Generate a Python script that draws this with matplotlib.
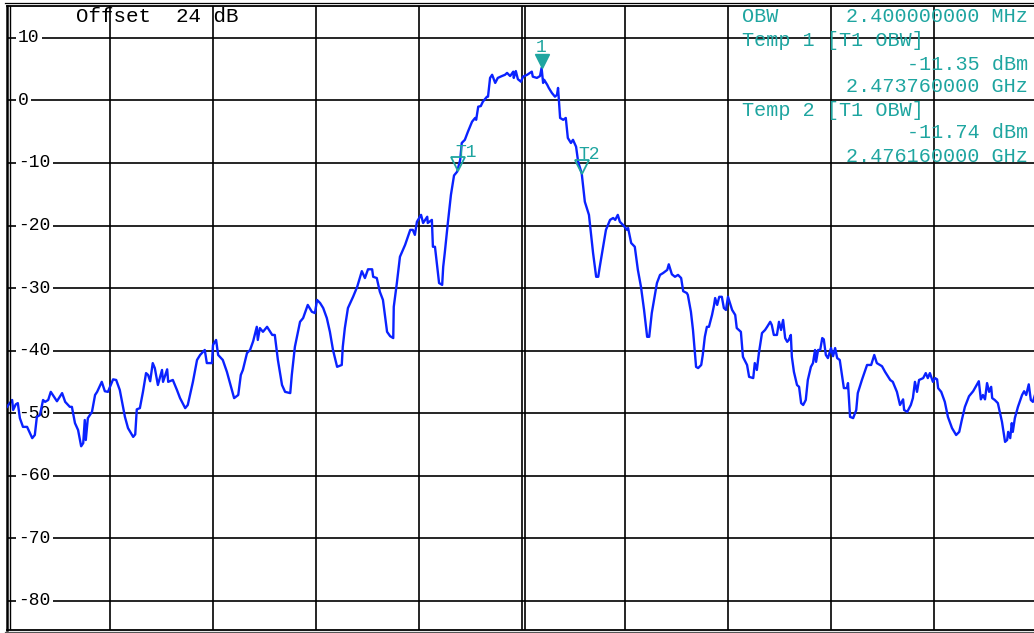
import matplotlib
matplotlib.use('Agg')
import matplotlib.pyplot as plt
import matplotlib.transforms as mtransforms
from matplotlib.lines import Line2D

# spectrum trace, frequency in MHz, level in dBm
freq_mhz = [
    2465.00, 2465.10, 2465.12, 2465.17, 2465.21, 2465.25, 2465.31, 2465.39, 2465.49, 2465.54,
    2465.58, 2465.64, 2465.70, 2465.74, 2465.80, 2465.85, 2465.89, 2465.97, 2466.07, 2466.13,
    2466.22, 2466.26, 2466.32, 2466.38, 2466.44, 2466.48, 2466.51, 2466.53, 2466.57, 2466.65,
    2466.71, 2466.75, 2466.84, 2466.90, 2466.96, 2467.06, 2467.12, 2467.19, 2467.29, 2467.35,
    2467.45, 2467.49, 2467.52, 2467.58, 2467.64, 2467.70, 2467.74, 2467.78, 2467.83, 2467.87,
    2467.93, 2468.01, 2468.03, 2468.11, 2468.13, 2468.22, 2468.30, 2468.36, 2468.46, 2468.51,
    2468.61, 2468.69, 2468.75, 2468.84, 2468.88, 2468.98, 2469.00, 2469.06, 2469.10, 2469.19,
    2469.27, 2469.33, 2469.41, 2469.49, 2469.54, 2469.58, 2469.66, 2469.72, 2469.78, 2469.82,
    2469.85, 2469.87, 2469.91, 2469.97, 2470.05, 2470.15, 2470.20, 2470.26, 2470.34, 2470.40,
    2470.50, 2470.53, 2470.59, 2470.69, 2470.75, 2470.84, 2470.92, 2470.98, 2471.02, 2471.08,
    2471.14, 2471.21, 2471.27, 2471.33, 2471.41, 2471.50, 2471.52, 2471.56, 2471.62, 2471.72,
    2471.80, 2471.89, 2471.95, 2472.01, 2472.09, 2472.11, 2472.18, 2472.24, 2472.30, 2472.38,
    2472.44, 2472.50, 2472.51, 2472.57, 2472.63, 2472.73, 2472.83, 2472.88, 2472.92, 2472.96,
    2473.04, 2473.08, 2473.16, 2473.17, 2473.25, 2473.27, 2473.31, 2473.39, 2473.45, 2473.47,
    2473.50, 2473.56, 2473.62, 2473.68, 2473.74, 2473.80, 2473.83, 2473.89, 2473.95, 2474.03,
    2474.09, 2474.11, 2474.15, 2474.20, 2474.24, 2474.32, 2474.34, 2474.38, 2474.42, 2474.48,
    2474.53, 2474.61, 2474.67, 2474.71, 2474.77, 2474.83, 2474.84, 2474.88, 2474.92, 2474.98,
    2475.02, 2475.10, 2475.19, 2475.21, 2475.29, 2475.35, 2475.38, 2475.41, 2475.43, 2475.49,
    2475.52, 2475.58, 2475.64, 2475.68, 2475.70, 2475.74, 2475.80, 2475.85, 2475.89, 2475.95,
    2475.99, 2476.05, 2476.09, 2476.16, 2476.22, 2476.30, 2476.38, 2476.44, 2476.48, 2476.51,
    2476.57, 2476.63, 2476.71, 2476.77, 2476.81, 2476.86, 2476.90, 2476.96, 2477.04, 2477.06,
    2477.12, 2477.19, 2477.25, 2477.31, 2477.37, 2477.43, 2477.47, 2477.52, 2477.62, 2477.68,
    2477.74, 2477.82, 2477.85, 2477.91, 2477.97, 2478.03, 2478.09, 2478.13, 2478.20, 2478.22,
    2478.28, 2478.32, 2478.38, 2478.42, 2478.48, 2478.51, 2478.55, 2478.59, 2478.63, 2478.69,
    2478.73, 2478.75, 2478.79, 2478.83, 2478.88, 2478.92, 2478.96, 2479.00, 2479.08, 2479.14,
    2479.17, 2479.25, 2479.29, 2479.37, 2479.41, 2479.49, 2479.52, 2479.56, 2479.60, 2479.66,
    2479.72, 2479.76, 2479.82, 2479.85, 2479.89, 2479.95, 2479.99, 2480.03, 2480.07, 2480.11,
    2480.15, 2480.18, 2480.22, 2480.24, 2480.28, 2480.34, 2480.38, 2480.42, 2480.46, 2480.51,
    2480.55, 2480.61, 2480.65, 2480.69, 2480.71, 2480.75, 2480.79, 2480.83, 2480.86, 2480.90,
    2480.94, 2481.00, 2481.04, 2481.08, 2481.12, 2481.17, 2481.25, 2481.31, 2481.33, 2481.37,
    2481.43, 2481.49, 2481.52, 2481.60, 2481.70, 2481.78, 2481.84, 2481.89, 2481.99, 2482.05,
    2482.15, 2482.20, 2482.28, 2482.34, 2482.40, 2482.42, 2482.48, 2482.55, 2482.59, 2482.63,
    2482.67, 2482.71, 2482.79, 2482.84, 2482.88, 2482.92, 2482.98, 2483.02, 2483.06, 2483.08,
    2483.14, 2483.21, 2483.27, 2483.35, 2483.43, 2483.49, 2483.54, 2483.60, 2483.68, 2483.76,
    2483.83, 2483.87, 2483.91, 2483.95, 2483.99, 2484.03, 2484.07, 2484.11, 2484.13, 2484.18,
    2484.24, 2484.32, 2484.38, 2484.42, 2484.44, 2484.48, 2484.51, 2484.53, 2484.57, 2484.63,
    2484.71, 2484.75, 2484.79, 2484.84, 2484.88, 2484.92, 2485.00,
]
level_dbm = [
    -49.0, -47.9, -49.5, -48.6, -48.4, -50.8, -52.2, -52.2, -54.0, -53.5,
    -50.6, -50.3, -47.9, -48.2, -47.9, -46.6, -47.1, -48.1, -46.8, -48.2,
    -49.0, -49.0, -51.6, -52.7, -55.3, -54.8, -51.1, -54.3, -50.8, -49.8,
    -47.1, -46.6, -45.0, -46.5, -46.6, -44.6, -44.7, -46.3, -50.6, -52.4,
    -53.8, -53.4, -49.4, -49.2, -46.6, -43.6, -43.9, -44.9, -42.0, -42.8,
    -45.5, -43.1, -45.0, -43.0, -45.0, -44.7, -46.3, -47.6, -49.2, -48.7,
    -45.0, -41.5, -40.7, -39.9, -42.0, -42.0, -39.1, -38.3, -40.7, -41.5,
    -43.4, -45.2, -47.6, -47.1, -43.9, -43.1, -40.4, -39.9, -38.5, -37.2,
    -36.2, -38.3, -36.4, -37.0, -36.2, -37.5, -37.5, -41.5, -45.5, -46.6,
    -46.8, -43.9, -39.4, -35.4, -34.8, -32.7, -33.8, -34.0, -31.9, -32.4,
    -33.2, -34.8, -37.0, -39.9, -42.6, -42.3, -39.4, -36.4, -33.2, -31.4,
    -29.8, -27.3, -28.4, -27.0, -27.0, -28.2, -28.4, -30.6, -31.9, -37.0,
    -37.7, -38.0, -33.0, -29.2, -25.0, -23.1, -20.7, -20.7, -21.5, -19.4,
    -18.3, -19.6, -18.6, -19.6, -19.1, -23.4, -23.4, -29.2, -29.5, -26.6,
    -24.4, -19.6, -15.1, -12.0, -11.4, -9.5, -6.8, -6.3, -5.0, -3.4,
    -2.8, -3.1, -1.0, -0.9, -0.2, 0.6, 0.6, 3.6, 4.1, 2.8,
    3.6, 3.9, 4.1, 4.4, 3.9, 4.6, 3.6, 4.7, 3.4, 3.0,
    3.8, 4.1, 4.6, 3.8, 3.6, 3.9, 5.2, 2.8, 3.3, 2.5,
    2.0, 1.2, 0.6, 0.9, 2.0, -2.8, -3.1, -2.8, -6.0, -6.8,
    -6.3, -7.4, -9.8, -11.7, -16.2, -18.3, -24.4, -28.2, -28.2, -26.6,
    -23.6, -20.7, -19.1, -18.8, -19.1, -18.3, -19.4, -19.9, -20.7, -20.4,
    -22.8, -23.4, -27.1, -29.8, -33.5, -37.8, -37.8, -34.0, -29.2, -27.9,
    -27.6, -27.1, -26.2, -27.8, -28.2, -27.9, -28.4, -30.5, -30.8, -31.1,
    -33.8, -36.7, -42.6, -42.8, -42.3, -40.7, -37.8, -36.2, -36.2, -34.3,
    -32.7, -31.6, -32.7, -31.4, -31.4, -33.2, -33.5, -31.4, -33.5, -34.3,
    -36.4, -37.0, -41.0, -42.3, -44.2, -44.4, -42.0, -43.1, -40.4, -37.2,
    -36.7, -36.2, -35.4, -35.9, -37.5, -37.5, -35.4, -36.7, -35.1, -38.0,
    -38.6, -38.3, -37.5, -41.0, -43.4, -45.5, -45.8, -48.4, -48.7, -47.9,
    -44.7, -42.6, -42.0, -39.9, -41.8, -39.9, -39.9, -38.0, -38.2, -40.7,
    -41.2, -39.6, -40.9, -39.6, -41.2, -41.5, -46.0, -46.0, -45.2, -50.6,
    -50.8, -49.5, -46.8, -44.7, -42.3, -42.3, -40.7, -42.0, -42.5, -43.4,
    -44.7, -45.0, -46.6, -48.7, -47.8, -49.5, -49.8, -48.7, -47.6, -45.0,
    -46.6, -44.7, -44.4, -43.6, -44.4, -43.6, -45.0, -44.4, -44.6, -46.0,
    -46.6, -48.2, -50.6, -52.4, -53.5, -53.0, -51.1, -49.0, -47.3, -46.5,
    -45.5, -44.9, -47.8, -47.1, -47.8, -45.2, -46.6, -45.8, -47.6, -47.9,
    -48.4, -51.4, -54.6, -54.3, -53.0, -54.0, -51.6, -53.0, -50.8, -49.0,
    -47.1, -46.5, -47.1, -45.4, -47.9, -48.2, -46.0,
]

y_ticks = [10, 0, -10, -20, -30, -40, -50, -60, -70, -80]
x_ticks = [2465, 2467, 2469, 2471, 2473, 2475, 2477, 2479, 2481, 2483, 2485]

ref_offset_db = 24
obw_mhz = 2.4
peak_freq, peak_level = 2475.38, 5.2
t1_freq, t1_level = 2473.76, -11.35
t2_freq, t2_level = 2476.16, -11.74

TRACE = '#0a22ff'
TEAL = '#1ea5a0'
MONO = 'Liberation Mono'

W, H = 1034, 633
fig = plt.figure(figsize=(W / 100, H / 100), dpi=100)
# axes box in pixels: left 7, top 6, bottom 629.5, right edge runs past the image
ax = fig.add_axes([7 / W, (H - 629.5) / H, 1030 / W, 623.5 / H])
ax.set_xlim(2465, 2485)
ax.set_ylim(-84.6, 15.1)
ax.set_xticks(x_ticks)
ax.set_yticks(y_ticks)
ax.tick_params(length=0, labelbottom=False, labelleft=False)
ax.grid(True, color='black', linewidth=1.2)
ax.set_axisbelow(True)
ax.axvline(2475.06, color='black', linewidth=1.2, zorder=0.5)
for side in ['top', 'bottom']:
    ax.spines[side].set_linewidth(1.3)
ax.spines['left'].set_linewidth(1.8)
ax.spines['right'].set_visible(False)

# double frame lines
fig.add_artist(Line2D([10 / W, 10 / W], [(H - 629) / H, (H - 6) / H], color='black', lw=1.0))
fig.add_artist(Line2D([5 / W, 1.0], [(H - 3) / H, (H - 3) / H], color='black', lw=0.9))
fig.add_artist(Line2D([5 / W, 1.0], [(H - 631.5) / H, (H - 631.5) / H], color='#555555', lw=0.9))

# level labels inside the frame
ylab_tr = mtransforms.blended_transform_factory(ax.transAxes, ax.transData)
for v in y_ticks:
    ax.annotate(str(v), xy=(0, v), xycoords=ylab_tr, xytext=(8, 0),
                textcoords='offset points', ha='left', va='center',
                fontsize=13, family=MONO, color='black', zorder=2.5,
                bbox=dict(boxstyle='square,pad=0.12', fc='white', ec='none'))

ax.plot(freq_mhz, level_dbm, color=TRACE, linewidth=1.7, zorder=3)

# markers, tip sits on the measured point
ms = 10
tip_tr = mtransforms.offset_copy(ax.transData, fig=fig, x=0, y=ms / 2, units='points')
ax.plot([peak_freq], [peak_level], marker='v', markersize=ms, color=TEAL,
        linestyle='none', transform=tip_tr, zorder=4)
ax.plot([t1_freq, t2_freq], [t1_level, t2_level], marker='v', markersize=ms,
        markerfacecolor='none', markeredgecolor=TEAL, markeredgewidth=1.3,
        linestyle='none', transform=tip_tr, zorder=4)
ax.annotate('1', xy=(peak_freq, peak_level), xytext=(0, 14.5), textcoords='offset points',
            ha='center', va='center', fontsize=13, family=MONO, color=TEAL)
ax.annotate('T1', xy=(t1_freq, t1_level), xytext=(5.5, 13.8), textcoords='offset points',
            ha='center', va='center', fontsize=13, family=MONO, color=TEAL)
ax.annotate('T2', xy=(t2_freq, t2_level), xytext=(5.5, 13.8), textcoords='offset points',
            ha='center', va='center', fontsize=13, family=MONO, color=TEAL)

# header texts
fig.text(157 / W, 1 - 17 / H, f'Offset  {ref_offset_db} dB', ha='center', va='center',
         fontsize=15, family=MONO, color='black')

def px_text(x, y, s, ha):
    fig.text(x / W, 1 - y / H, s, ha=ha, va='center', fontsize=14.5, family=MONO, color=TEAL)

px_text(742, 17, 'OBW', 'left')
px_text(1028, 17, f'{obw_mhz:.9f} MHz', 'right')
px_text(742, 41, 'Temp 1 [T1 OBW]', 'left')
px_text(1028, 64, f'{t1_level:.2f} dBm', 'right')
px_text(1028, 87, f'{t1_freq / 1000:.9f} GHz', 'right')
px_text(742, 110, 'Temp 2 [T1 OBW]', 'left')
px_text(1028, 133, f'{t2_level:.2f} dBm', 'right')
px_text(1028, 156, f'{t2_freq / 1000:.9f} GHz', 'right')

fig.savefig('out.png', dpi=100)
